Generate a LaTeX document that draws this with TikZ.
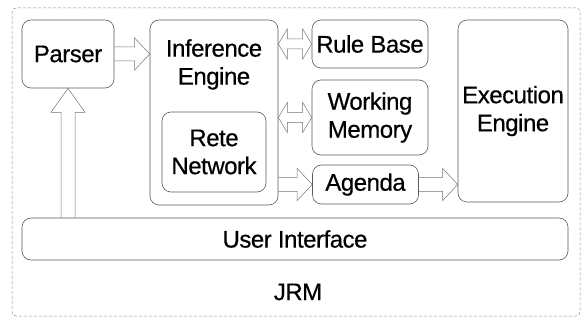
\documentclass[tikz,border=0pt]{standalone}
\usepackage{fontspec}
\setmainfont[FakeBold=0.5,LetterSpace=-2]{Liberation Sans}
\usetikzlibrary{calc}

\begin{document}
\begin{tikzpicture}[x=1pt,y=-1pt,
    every node/.style={font=\fontsize{24}{28}\selectfont, align=center},
    box/.style={draw=black!65, line width=0.6pt, rounded corners=9pt, inner sep=0pt},
    rfat/.style={draw=black!55, line width=0.5pt, to path={
      ($(\tikztostart)+(0,7pt)$) -- ($(\tikztotarget)+(-15pt,7pt)$) -- ($(\tikztotarget)+(-15pt,16pt)$)
      -- (\tikztotarget) -- ($(\tikztotarget)+(-15pt,-16pt)$) -- ($(\tikztotarget)+(-15pt,-7pt)$)
      -- ($(\tikztostart)+(0,-7pt)$)}},
    dfat/.style={draw=black!55, line width=0.5pt, to path={
      (\tikztostart) -- ($(\tikztostart)+(9pt,15pt)$) -- ($(\tikztostart)+(9pt,5pt)$)
      -- ($(\tikztotarget)+(-9pt,5pt)$) -- ($(\tikztotarget)+(-9pt,15pt)$) -- (\tikztotarget)
      -- ($(\tikztotarget)+(-9pt,-15pt)$) -- ($(\tikztotarget)+(-9pt,-5pt)$)
      -- ($(\tikztostart)+(9pt,-5pt)$) -- ($(\tikztostart)+(9pt,-15pt)$) -- cycle}},
    ufat/.style={draw=black!55, line width=0.5pt, to path={
      ($(\tikztostart)+(7pt,0)$) -- ($(\tikztotarget)+(7pt,-24pt)$) -- ($(\tikztotarget)+(17pt,-24pt)$)
      -- (\tikztotarget) -- ($(\tikztotarget)+(-17pt,-24pt)$) -- ($(\tikztotarget)+(-7pt,-24pt)$)
      -- ($(\tikztostart)+(-7pt,0)$)}}]

    \useasboundingbox (0,0) rectangle (585,320);

    \node[draw=black!45, line width=0.5pt, densely dashed, rounded corners=4pt,
          minimum width=568pt, minimum height=308pt] (jrm) at (296,162) {};
    \node (jrmtext) at (298,292) {JRM};

    \node[box, minimum width=92pt, minimum height=68pt] (parser) at (68,54) {Parser};
    \node[box, minimum width=128pt, minimum height=185pt,
          label={[below=16pt]north:Inference\\Engine}] (inf) at (214,112.5) {};
    \node[box, minimum width=104pt, minimum height=80pt] (rete) at (214,152) {Rete\\Network};
    \node[box, minimum width=116pt, minimum height=48pt] (rule) at (370,44) {Rule Base};
    \node[box, minimum width=116pt, minimum height=75pt] (wm) at (370,117.5) {Working\\Memory};
    \node[box, minimum width=106pt, minimum height=39pt] (agenda) at (365.5,184.5) {Agenda};
    \node[box, minimum width=110pt, minimum height=182pt] (exec) at (513,111) {Execution\\Engine};
    \node[box, minimum width=546pt, minimum height=42pt] (ui) at (295,239) {User Interface};

    \draw[rfat] (parser.east) to (parser.east -| inf.west);
    \draw[dfat] (rule.west -| inf.east) to (rule.west);
    \draw[dfat] (wm.west -| inf.east) to (wm.west);
    \draw[rfat] (agenda.west -| inf.east) to (agenda.west);
    \draw[rfat] (agenda.east) to (agenda.east -| exec.west);
    \draw[ufat] (ui.north -| parser.south) to (parser.south);

\end{tikzpicture}
\end{document}
